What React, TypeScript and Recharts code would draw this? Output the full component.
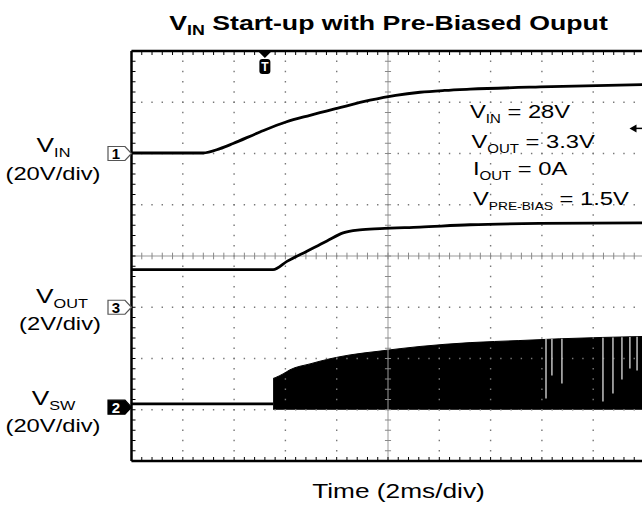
import React from "react";
import { ComposedChart, Line, Area, XAxis, YAxis, ReferenceLine, ReferenceDot } from "recharts";

// time base: 2 ms/div, 10 divisions
const vinTime = [0, 1.5, 2.79, 3.45, 3.96, 5.01, 6.02, 6.96, 8.01, 9.3, 10.3, 11.25, 12.2, 13.2, 15.93, 20];
const vinVolts = [0.2, 0.2, 0.2, 1.9, 3.9, 8.4, 12.3, 14.9, 17.6, 20.8, 22.7, 23.9, 24.6, 25.1, 26.0, 26.9];

const voutTime = [0, 3, 5.52, 6.06, 6.84, 7.62, 8.25, 8.9, 9.69, 11.25, 13.2, 15.9, 20];
const voutVolts = [1.47, 1.47, 1.47, 1.79, 2.19, 2.59, 2.9, 3.02, 3.07, 3.13, 3.22, 3.27, 3.29];

const swPreTime = [0, 5.52];
const swPreVolts = [1.3, 1.3];

const swTime = [5.52, 5.6, 5.91, 6.18, 6.96, 7.74, 8.52, 9.69, 11.25, 13.2, 15.1, 16.7, 20];
const swHigh = [11.2, 11.5, 13.0, 14.6, 16.9, 18.9, 20.4, 21.9, 23.7, 25.2, 26.0, 26.7, 27.6];
const swLow = -0.8;

// pulse-skipping dropouts on the switch node
const dropTime = [16.16, 16.39, 16.78, 18.38, 18.77, 19.12, 19.43, 19.71];
const dropTop = [26.6, 26.6, 26.7, 27.1, 27.2, 27.3, 27.4, 27.5];
const dropBottom = [3.4, 12.4, 9.2, 2.2, 5.3, 10.8, 15.1, 14.3];

const triggerTime = 5.2;
const triggerLevel = 9.8;

// channel 1 scale (20 V/div) doubles as the screen grid: 8 divisions from -120 V to 40 V
const VDIV = 20;
const VBOT = -120;
const VTOP = 40;

const vinData = vinTime.map((t, i) => ({ t, v: vinVolts[i] }));
const voutData = voutTime.map((t, i) => ({ t, v: voutVolts[i] }));
const swPreData = swPreTime.map((t, i) => ({ t, v: swPreVolts[i] }));
const swData = swTime.map((t, i) => ({ t, v: [swLow, swHigh[i]] }));

const minorT = Array.from({ length: 51 }, (_, i) => +(i * 0.4).toFixed(2));
const minorV = Array.from({ length: 41 }, (_, i) => VBOT + i * (VDIV / 5));
const gridT = [2, 4, 6, 8, 12, 14, 16, 18];
const gridV = [1, 2, 3, 5, 6, 7].map((d) => VBOT + d * VDIV);
const centerV = VBOT + 4 * VDIV;

const FONT = "'Liberation Sans', Arial, Helvetica, sans-serif";
const SX = 1.25;

function SText({ x, y, size, subSize, anchor = "start", main, sub, rest, bold = false, sx = SX }: any) {
  return (
    <g transform={`translate(${x},${y}) scale(${sx},1)`}>
      <text x={0} y={0} textAnchor={anchor} fontFamily={FONT} fontSize={size} fontWeight={bold ? "bold" : "normal"} fill="#000">
        {main}
        {sub ? (
          <tspan fontSize={subSize} dy={5}>
            {sub}
          </tspan>
        ) : null}
        {rest ? <tspan dy={sub ? -5 : 0}>{rest}</tspan> : null}
      </text>
    </g>
  );
}

const ChMarker = ({ cx, cy, label, filled }: any) => (
  <g>
    <path
      d={`M${cx - 23.5},${cy - 7} h17 l6.5,7 l-6.5,7 h-17 z`}
      fill={filled ? "#000" : "#fff"}
      stroke={filled ? "#000" : "#555"}
      strokeWidth={1.2}
    />
    <text x={cx - 15.5} y={cy + 5.5} textAnchor="middle" fontFamily={FONT} fontSize={15} fontWeight="bold" fill={filled ? "#fff" : "#000"}>
      {label}
    </text>
  </g>
);

const TrigMarker = ({ cx, cy }: any) => (
  <g>
    <path d={`M${cx - 6},${cy + 1} L${cx + 6},${cy + 1} L${cx},${cy + 7} z`} fill="#000" />
    <rect x={cx - 5.5} y={cy + 8} width={11} height={15} rx={3} fill="#000" />
    <text x={cx} y={cy + 20} textAnchor="middle" fontFamily={FONT} fontSize={12} fontWeight="bold" fill="#fff">
      T
    </text>
  </g>
);

const LevelArrow = ({ cx, cy }: any) => (
  <g>
    <path d={`M${cx - 15},${cy} L${cx - 8},${cy - 4} L${cx - 8},${cy + 4} z`} fill="#000" />
    <line x1={cx - 9} y1={cy} x2={cx - 2} y2={cy} stroke="#000" strokeWidth={1.5} />
  </g>
);

const noTick = () => <g />;

export default function App() {
  return (
    <div style={{ position: "fixed", left: 0, top: 0, width: 642, height: 506, overflow: "hidden", background: "#fff" }}>
      <ComposedChart width={660} height={506} margin={{ top: 51, right: 15.5, bottom: 45, left: 131.5 }}>
        <XAxis
          xAxisId="t"
          dataKey="t"
          type="number"
          domain={[0, 20]}
          allowDataOverflow
          orientation="bottom"
          mirror
          ticks={minorT}
          interval={0}
          tick={noTick}
          tickSize={4}
          stroke="#000"
          axisLine={{ stroke: "#000", strokeWidth: 2.5 }}
        />
        <XAxis
          xAxisId="top"
          dataKey="t"
          type="number"
          domain={[0, 20]}
          allowDataOverflow
          orientation="top"
          mirror
          ticks={minorT}
          interval={0}
          tick={noTick}
          tickSize={4}
          stroke="#000"
          axisLine={{ stroke: "#000", strokeWidth: 2.5 }}
        />
        <YAxis
          yAxisId="vin"
          type="number"
          domain={[VBOT, VTOP]}
          allowDataOverflow
          orientation="left"
          mirror
          ticks={minorV}
          interval={0}
          tick={noTick}
          tickSize={4}
          stroke="#000"
          axisLine={{ stroke: "#000", strokeWidth: 2.5 }}
        />
        <YAxis yAxisId="vout" type="number" domain={[-6, 10]} allowDataOverflow hide />
        <YAxis yAxisId="sw" type="number" domain={[-21, 139]} allowDataOverflow hide />

        {gridV.map((v) => (
          <ReferenceLine key={`h${v}`} xAxisId="t" yAxisId="vin" y={v} stroke="#777" strokeWidth={1.4} strokeDasharray="1.4 8.86" strokeDashoffset={0.7} />
        ))}
        {gridT.map((t) => (
          <ReferenceLine key={`v${t}`} xAxisId="t" yAxisId="vin" x={t} stroke="#777" strokeWidth={1.4} strokeDasharray="1.4 8.85" strokeDashoffset={0.7} />
        ))}
        <ReferenceLine xAxisId="t" yAxisId="vin" y={centerV} stroke="#999" strokeWidth={1} />
        <ReferenceLine xAxisId="t" yAxisId="vin" x={10} stroke="#999" strokeWidth={1} />
        {minorT.slice(1, -1).map((t) => (
          <ReferenceLine
            key={`ct${t}`}
            xAxisId="t"
            yAxisId="vin"
            segment={[
              { x: t, y: centerV - 1.3 },
              { x: t, y: centerV + 1.3 },
            ]}
            stroke="#888"
            strokeWidth={1}
          />
        ))}
        {minorV.slice(1, -1).map((v) => (
          <ReferenceLine
            key={`cd${v}`}
            xAxisId="t"
            yAxisId="vin"
            segment={[
              { x: 9.88, y: v },
              { x: 10.12, y: v },
            ]}
            stroke="#888"
            strokeWidth={1}
          />
        ))}

        <Area
          xAxisId="t"
          yAxisId="sw"
          data={swData}
          dataKey="v"
          type="monotone"
          stroke="#000"
          strokeWidth={1}
          fill="#000"
          fillOpacity={1}
          isAnimationActive={false}
        />
        {dropTime.map((t, i) => (
          <ReferenceLine
            key={`d${i}`}
            xAxisId="t"
            yAxisId="sw"
            segment={[
              { x: t, y: dropTop[i] },
              { x: t, y: dropBottom[i] },
            ]}
            stroke="#b5b5b5"
            strokeWidth={1.6}
          />
        ))}
        <Line xAxisId="t" yAxisId="sw" data={swPreData} dataKey="v" type="linear" stroke="#000" strokeWidth={2.6} dot={false} isAnimationActive={false} />
        <Line xAxisId="t" yAxisId="vin" data={vinData} dataKey="v" type="monotone" stroke="#000" strokeWidth={2.8} dot={false} isAnimationActive={false} />
        <Line xAxisId="top" yAxisId="vin" data={vinData} dataKey="v" type="monotone" stroke="none" dot={false} isAnimationActive={false} />
        <Line xAxisId="t" yAxisId="vout" data={voutData} dataKey="v" type="monotone" stroke="#000" strokeWidth={2.8} dot={false} isAnimationActive={false} />

        <ReferenceDot xAxisId="t" yAxisId="vin" x={0} y={0} r={0} shape={(p: any) => <ChMarker {...p} label="1" />} />
        <ReferenceDot xAxisId="t" yAxisId="vout" x={0} y={0} r={0} shape={(p: any) => <ChMarker {...p} label="3" />} />
        <ReferenceDot xAxisId="t" yAxisId="sw" x={0} y={0} r={0} shape={(p: any) => <ChMarker {...p} label="2" filled />} />
        <ReferenceDot xAxisId="t" yAxisId="vin" x={triggerTime} y={VTOP} r={0} shape={(p: any) => <TrigMarker {...p} />} />
        <ReferenceDot xAxisId="t" yAxisId="vin" x={20} y={triggerLevel} r={0} shape={(p: any) => <LevelArrow {...p} />} />
      </ComposedChart>

      <svg width={642} height={506} style={{ position: "absolute", left: 0, top: 0, pointerEvents: "none" }}>
        <SText x={388.5} y={30} size={21} subSize={14} anchor="middle" bold main="V" sub="IN" rest=" Start-up with Pre-Biased Ouput" sx={1.27} />

        <SText x={53.5} y={151.5} size={21} subSize={13} anchor="middle" main="V" sub="IN" />
        <SText x={53} y={180} size={19} anchor="middle" main="(20V/div)" />
        <SText x={62} y={302.5} size={21} subSize={13} anchor="middle" main="V" sub="OUT" />
        <SText x={60} y={330} size={19} anchor="middle" main="(2V/div)" />
        <SText x={53.5} y={405} size={21} subSize={13} anchor="middle" main="V" sub="SW" />
        <SText x={53} y={431.5} size={19} anchor="middle" main="(20V/div)" />

        <SText x={470} y={118} size={19} subSize={12} main="V" sub="IN" rest=" = 28V" />
        <SText x={471.5} y={148} size={19} subSize={12} main="V" sub="OUT" rest=" = 3.3V" />
        <SText x={473} y={175} size={19} subSize={12} main="I" sub="OUT" rest=" = 0A" />
        <SText x={473} y={205} size={19} subSize={11} main="V" sub="PRE-BIAS" rest=" = 1.5V" />

        <SText x={398.5} y={498} size={21} anchor="middle" main="Time (2ms/div)" />
      </svg>
    </div>
  );
}
